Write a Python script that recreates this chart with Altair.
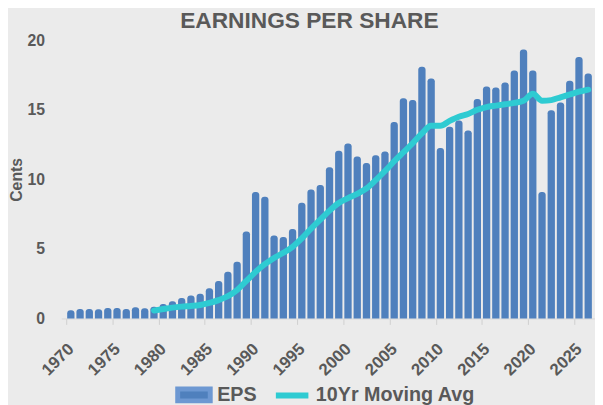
import altair as alt
import pandas as pd

# ---- data ----
years = list(range(1970, 2027))
eps = [0.59, 0.69, 0.69, 0.67, 0.76, 0.76, 0.69, 0.80, 0.73, 0.85,
       1.04, 1.23, 1.47, 1.65, 1.77, 2.17, 2.70, 3.36, 4.07, 6.26,
       9.10, 8.75, 5.96, 5.86, 6.43, 8.32, 9.27, 9.60, 10.87, 12.06,
       12.57, 11.65, 11.18, 11.73, 12.01, 14.13, 15.84, 15.70, 18.09, 17.26,
       12.25, 13.78, 14.23, 13.52, 15.77, 16.67, 16.60, 16.97, 17.82, 19.34,
       17.82, 9.10, 14.96, 15.53, 17.09, 18.79, 17.61]
ma_years = list(range(1979, 2027))
ma = [0.57, 0.68, 0.78, 0.85, 0.90, 0.97, 1.12, 1.32, 1.60, 2.05,
      2.70, 3.35, 3.90, 4.35, 4.72, 5.15, 5.75, 6.45, 7.10, 7.75,
      8.30, 8.65, 8.95, 9.35, 9.95, 10.60, 11.30, 11.95, 12.60, 13.30,
      13.85, 13.85, 14.20, 14.50, 14.70, 15.00, 15.20, 15.30, 15.40, 15.50,
      15.65, 16.15, 15.65, 15.70, 15.90, 16.10, 16.30, 16.45]
x_tick_values = list(range(1970, 2030, 5))
y_tick_values = [0, 5, 10, 15, 20]

BLUE = "#4f80bd"
TEAL = "#2ecbd2"
GRAY = "#595959"
FONT = "Liberation Sans"

df_eps = pd.DataFrame({"year": years, "eps": eps, "s": ["EPS"] * len(years)})
df_ma = pd.DataFrame({"year": ma_years, "ma": ma, "s": ["10Yr Moving Avg"] * len(ma_years)})

xscale = alt.Scale(domain=[1969.5, 2026.2], nice=False, zero=False)
yscale = alt.Scale(domain=[0, 20], nice=False)

xaxis = alt.Axis(values=x_tick_values, format="d", labelAngle=-45, labelAlign="right",
                 labelBaseline="middle", labelFontSize=17, labelFontWeight="bold",
                 labelColor=GRAY, labelFont=FONT, tickSize=6, tickColor="#cfcfcf",
                 domainColor="#d6d6d6", tickOffset=-4.77, labelOffset=4.77,
                 labelPadding=22, grid=False, labelFlush=False, labelOverlap=False)
yaxis = alt.Axis(values=y_tick_values, grid=False, ticks=False, domain=False,
                 labelFontSize=16, labelFontWeight="bold", labelColor=GRAY, labelFont=FONT,
                 labelPadding=17, titleFontSize=16, titleFontWeight="bold", titleColor=GRAY,
                 titleFont=FONT, titlePadding=3)

bar_legend = alt.Legend(title=None, orient="none", legendX=113, legendY=338,
                        direction="horizontal", padding=0,
                        symbolType="M-0.868,-0.316H0.868V0.316H-0.868Z", symbolSize=1444,
                        symbolStrokeWidth=5, symbolStrokeColor="#6d98d2", symbolOpacity=1,
                        labelFontSize=20, labelFontWeight="bold", labelLimit=400,
                        labelColor=GRAY, labelFont=FONT, labelOffset=2)
line_legend = alt.Legend(title=None, orient="none", legendX=212, legendY=338,
                         direction="horizontal", padding=0,
                         symbolType="M-0.868,0H0.868", symbolSize=1444,
                         symbolStrokeWidth=6, symbolOpacity=1, labelFontSize=20,
                         labelFontWeight="bold", labelLimit=400,
                         labelColor=GRAY, labelFont=FONT, labelOffset=2)

bars = alt.Chart(df_eps).mark_bar(
    size=7.4, cornerRadiusTopLeft=3, cornerRadiusTopRight=3
).encode(
    x=alt.X("year:Q", scale=xscale, axis=xaxis, title=None),
    y=alt.Y("eps:Q", scale=yscale, axis=yaxis, title="Cents", stack=None),
    fill=alt.Fill("s:N", scale=alt.Scale(domain=["EPS"], range=[BLUE]), legend=bar_legend),
)

line = alt.Chart(df_ma).mark_line(
    strokeWidth=6, interpolate="monotone", strokeCap="round"
).encode(
    x=alt.X("year:Q", scale=xscale),
    y=alt.Y("ma:Q", scale=yscale),
    stroke=alt.Stroke("s:N", scale=alt.Scale(domain=["10Yr Moving Avg"], range=[TEAL]),
                      legend=line_legend),
)

chart = alt.layer(bars, line).properties(
    width=541, height=282,
    autosize=alt.AutoSizeParams(type="none"),
    padding={"left": 54, "top": 30, "right": 0, "bottom": 85},
    title=alt.TitleParams("EARNINGS PER SHARE", fontSize=23, fontWeight="bold", color=GRAY,
                          font=FONT, anchor="middle", dx=-19, offset=-1),
    background="#ebebeb",
).configure_view(stroke=None)

chart.save("out.html", embed_options={"renderer": "svg", "actions": False})
